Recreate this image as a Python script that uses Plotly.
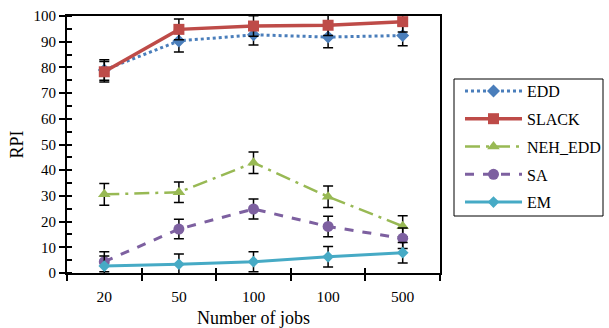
import plotly.graph_objects as go

categories = ["20", "50", "100", "100", "500"]
edd = [79.0, 90.3, 92.7, 91.8, 92.4]
slack = [78.3, 94.8, 96.1, 96.4, 97.8]
neh_edd = [30.6, 31.4, 42.9, 29.7, 18.2]
sa = [4.4, 17.1, 24.9, 18.1, 13.5]
em = [2.7, 3.4, 4.4, 6.3, 7.9]
err_edd = [4, 4.3, 4, 4.2, 4]
err_slack = [4, 4, 4, 4, 4]
err_neh = [4.2, 4, 4.2, 4.2, 4.1]
err_sa = [3.9, 3.8, 3.9, 4, 4]
err_em = [3.9, 4, 3.9, 4, 4]
y_ticks = [0, 10, 20, 30, 40, 50, 60, 70, 80, 90, 100]

xpos = list(range(len(categories)))
FONT = "Liberation Serif, Times New Roman, Times, serif"

series = [
    ("EDD", edd, err_edd, "#4A7EBB", "dot", 3, "diamond", 10),
    ("SLACK", slack, err_slack, "#BE4B48", "solid", 3.5, "square", 11),
    ("NEH_EDD", neh_edd, err_neh, "#98B954", "longdashdot", 2.5, "triangle-up", 11),
    ("SA", sa, err_sa, "#7D60A0", "dash", 3, "circle", 11),
    ("EM", em, err_em, "#46AAC5", "solid", 3, "diamond", 9),
]

fig = go.Figure()
for name, vals, errs, color, dash, width, sym, size in series:
    fig.add_trace(go.Scatter(
        x=xpos, y=vals, name=name, mode="lines+markers", legendgroup=name,
        line=dict(color=color, dash=dash, width=width),
        marker=dict(symbol=sym, size=size, color=color),
        error_y=dict(type="data", array=errs, visible=True, color="black",
                     thickness=1.5, width=5),
    ))

fig.add_trace(go.Scatter(x=[0], y=[0], xaxis="x2", yaxis="y2", mode="markers",
                         marker=dict(opacity=0), showlegend=False, hoverinfo="skip"))

# legend frame drawn as a paper-referenced rectangle
fig.add_shape(type="rect", xref="paper", yref="paper",
              x0=(454 - 67) / 373, x1=(603 - 67) / 373,
              y0=(273 - 216) / 257, y1=(273 - 79) / 257,
              line=dict(color="black", width=1), fillcolor="rgba(0,0,0,0)", layer="above")

fig.update_layout(
    width=609, height=328,
    margin=dict(l=67, r=169, t=16, b=55, autoexpand=False),
    paper_bgcolor="white", plot_bgcolor="white",
    font=dict(family=FONT, color="black", size=15),
    showlegend=True,
    legend=dict(x=(460 - 67) / 373, y=(273 - 74) / 257, xanchor="left", yanchor="top",
                borderwidth=0, bgcolor="rgba(0,0,0,0)",
                font=dict(family=FONT, size=16), itemwidth=57,
                tracegroupgap=4),
    xaxis=dict(range=[-0.5, 4.5], tickvals=xpos, ticktext=categories,
               ticks="", showgrid=False, zeroline=False, automargin=False,
               showline=True, linecolor="black", linewidth=2, mirror=True,
               tickfont=dict(size=15.5, family=FONT), ticklabelstandoff=8,
               minor=dict(tickvals=[-0.5, 0.5, 1.5, 2.5, 3.5, 4.5], ticks="outside",
                          ticklen=6, tickwidth=1.5, tickcolor="black"),
               title=dict(text="Number of jobs", font=dict(size=18, family=FONT), standoff=8)),
    yaxis=dict(range=[0, 100], tickvals=y_ticks, ticks="outside", ticklen=6,
               tickwidth=1.5, tickcolor="black", showgrid=False, zeroline=False,
               showline=True, linecolor="black", linewidth=2, mirror=True,
               automargin=False,
               tickfont=dict(size=15, family=FONT),
               minor=dict(dtick=5, ticks="inside", ticklen=5, tickwidth=1.5, tickcolor="black"),
               title=dict(text="RPI", font=dict(size=18, family=FONT), standoff=5)),
    xaxis2=dict(overlaying="x", range=[-0.5, 4.5], side="bottom", anchor="y",
                tickvals=[-0.5, 0.5, 1.5, 2.5, 3.5, 4.5], ticks="inside", ticklen=5,
                tickwidth=1.5, tickcolor="black", showticklabels=False, automargin=False,
                showgrid=False, zeroline=False, showline=False),
    yaxis2=dict(overlaying="y", range=[0, 100], side="left", anchor="x",
                tickvals=y_ticks, ticks="inside", ticklen=5, tickwidth=1.5,
                tickcolor="black", showticklabels=False, showgrid=False, automargin=False,
                zeroline=False, showline=False),
)

fig.write_html("out.html", config={"displayModeBar": False},
               post_script="document.body.style.margin='0';document.body.style.padding='0';")
